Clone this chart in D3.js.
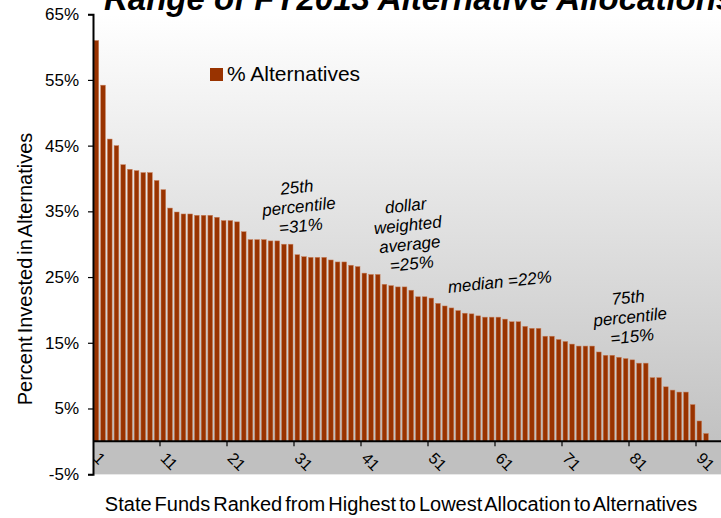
<!DOCTYPE html>
<html>
<head>
<meta charset="utf-8">
<script src="https://cdn.jsdelivr.net/npm/d3@7/dist/d3.min.js"></script>
<style>
  html, body { margin: 0; padding: 0; background: #ffffff; }
  svg { display: block; font-family: "Liberation Sans", Arial, sans-serif; }
</style>
</head>
<body>
<svg id="chart" width="721" height="518"></svg>
<script>
// Share of assets in alternatives, state funds ranked 1..92 (percent)
const allocations = [
  61.0, 54.2, 46.0, 45.0, 42.1, 41.4, 41.2, 40.9, 40.9, 39.7,
  38.3, 35.5, 34.9, 34.6, 34.6, 34.4, 34.4, 34.4, 34.1, 33.6,
  33.6, 33.4, 31.9, 30.7, 30.7, 30.7, 30.5, 30.5, 30.0, 30.0,
  28.4, 28.1, 28.0, 28.0, 28.0, 27.6, 27.3, 27.3, 26.8, 26.6,
  25.6, 25.4, 25.4, 23.9, 23.7, 23.5, 23.5, 23.0, 22.0, 22.0,
  21.8, 21.0, 20.6, 20.3, 19.9, 19.5, 19.4, 19.1, 18.9, 18.9,
  18.9, 18.6, 18.2, 18.2, 17.5, 17.2, 17.2, 16.0, 16.0, 15.5,
  15.2, 14.8, 14.5, 14.5, 14.5, 13.6, 13.1, 13.1, 12.8, 12.6,
  12.4, 11.9, 11.9, 9.7, 9.7, 8.3, 7.8, 7.5, 7.5, 5.6,
  3.1, 1.2
];
const ranks = allocations.map((_, i) => i + 1);
const xTickLabels = [1, 11, 21, 31, 41, 51, 61, 71, 81, 91];
const yTicks = [-5, 5, 15, 25, 35, 45, 55, 65];
const seriesName = "% Alternatives";
const chartTitle = "Range of FY2013 Alternative Allocations";
const xTitle = "State Funds Ranked from Highest to Lowest Allocation to Alternatives";
const yTitle = "Percent Invested in Alternatives";
// annotation lines, each placed at a rank and a percent level
const notes = [
  { rank: 31, level: 37.8, lines: ["25th", "percentile", "=31%"] },
  { rank: 47.25, level: 35.0, lines: ["dollar", "weighted", "average", "=25%"] },
  { rank: 61.3, level: 23.4, lines: ["median =22%"] },
  { rank: 80.45, level: 21.0, lines: ["75th", "percentile", "=15%"] }
];

const W = 721;
const plotLeft = 93, plotTop = 14.2, plotBottom = 474.2;
const step = 6.7;

const svg = d3.select("#chart");

const x = d3.scaleBand()
  .domain(ranks)
  .range([plotLeft, plotLeft + ranks.length * step])
  .paddingInner(0.3)
  .paddingOuter(0.15);

const y = d3.scaleLinear().domain([-5, 65]).range([plotBottom, plotTop]);

// plot background: white fading to grey
const defs = svg.append("defs");
const grad = defs.append("linearGradient")
  .attr("id", "plotBg").attr("x1", 0).attr("y1", 0).attr("x2", 0).attr("y2", 1);
grad.append("stop").attr("offset", "0%").attr("stop-color", "#ffffff");
grad.append("stop").attr("offset", "100%").attr("stop-color", "#bdbdbd");

svg.append("rect")
  .attr("x", plotLeft).attr("y", y(65))
  .attr("width", W - plotLeft).attr("height", y(-5) - y(65))
  .attr("fill", "url(#plotBg)");

// band below zero
svg.append("rect")
  .attr("x", plotLeft).attr("y", y(0))
  .attr("width", W - plotLeft).attr("height", y(-5) - y(0))
  .attr("fill", "#c0c0c0");

// title (runs off the top edge)
svg.append("text")
  .attr("x", 104).attr("y", 10)
  .attr("font-size", 33).attr("font-weight", "bold").attr("font-style", "italic")
  .attr("fill", "#000")
  .text(chartTitle);

// bars
svg.append("g").selectAll("rect")
  .data(allocations)
  .join("rect")
  .attr("x", (d, i) => x(ranks[i]))
  .attr("width", x.bandwidth())
  .attr("y", d => y(d))
  .attr("height", d => y(0) - y(d))
  .attr("fill", "#993300")
  .attr("stroke", "#c8825e")
  .attr("stroke-width", 0.5);

// category axis: labels at ranks, ticks between ranks
const gap = (x.step() - x.bandwidth()) / 2;
const xAxis = svg.append("g").attr("transform", `translate(0,${y(0)})`);
xAxis.append("line")
  .attr("x1", plotLeft).attr("x2", W).attr("y1", 0).attr("y2", 0)
  .attr("stroke", "#000").attr("stroke-width", 2);
xAxis.selectAll("line.tick")
  .data(xTickLabels.slice(1))
  .join("line")
  .attr("class", "tick")
  .attr("x1", d => x(d) - gap).attr("x2", d => x(d) - gap)
  .attr("y1", 0).attr("y2", 5)
  .attr("stroke", "#000").attr("stroke-width", 1.2);
xAxis.selectAll("text")
  .data(xTickLabels)
  .join("text")
  .attr("transform", d => `translate(${x(d) + x.bandwidth() / 2},${14}) rotate(45)`)
  .attr("font-size", 16)
  .attr("fill", "#000")
  .attr("dy", "0.35em")
  .text(d => d);

// value axis
const yAxis = svg.append("g")
  .attr("transform", `translate(${plotLeft},0)`)
  .call(d3.axisLeft(y).tickValues(yTicks).tickFormat(d => d + "%").tickSize(5).tickPadding(9));
yAxis.select(".domain").attr("stroke", "#000").attr("stroke-width", 2);
yAxis.selectAll(".tick line").attr("stroke", "#000").attr("stroke-width", 1.2);
yAxis.selectAll(".tick text")
  .attr("font-size", 17).attr("fill", "#000")
  .attr("font-family", "Liberation Sans, Arial, sans-serif");

// axis titles
svg.append("text")
  .attr("transform", `translate(32,${269}) rotate(-90)`)
  .attr("text-anchor", "middle")
  .attr("font-size", 20).attr("word-spacing", -2.5)
  .attr("fill", "#000")
  .text(yTitle);

svg.append("text")
  .attr("x", 401).attr("y", 511)
  .attr("text-anchor", "middle")
  .attr("font-size", 20).attr("word-spacing", -2.5)
  .attr("fill", "#000")
  .text(xTitle);

// legend
const leg = svg.append("g");
leg.append("rect")
  .attr("x", 210).attr("y", 68).attr("width", 13).attr("height", 13)
  .attr("fill", "#993300");
leg.append("text")
  .attr("x", 227).attr("y", 81)
  .attr("font-size", 21).attr("fill", "#000")
  .text(seriesName);

// annotations
notes.forEach(n => {
  const cx = x(Math.floor(n.rank)) + (n.rank % 1) * x.step() + x.bandwidth() / 2;
  const cy = y(n.level);
  const g = svg.append("g")
    .attr("transform", `translate(${cx},${cy}) rotate(-6)`);
  g.selectAll("text")
    .data(n.lines)
    .join("text")
    .attr("x", 0)
    .attr("y", (d, i) => i * 19.5)
    .attr("text-anchor", "middle")
    .attr("font-size", 17).attr("font-style", "italic")
    .attr("fill", "#000")
    .text(d => d);
});
</script>
</body>
</html>
